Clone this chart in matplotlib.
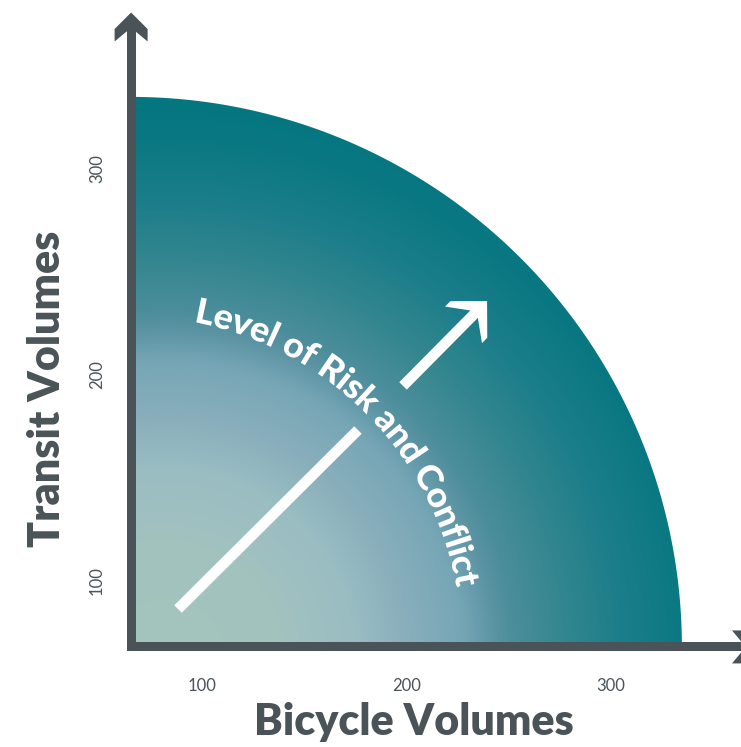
import numpy as np
import matplotlib
matplotlib.use("Agg")
import matplotlib.pyplot as plt
from matplotlib.patches import Polygon, PathPatch
from matplotlib.path import Path
from matplotlib.textpath import TextPath
from matplotlib.font_manager import FontProperties
from matplotlib.transforms import Affine2D

# ---------------- data ----------------
x_ticks = [100, 200, 300]
y_ticks = [100, 200, 300]
x_label = "Bicycle Volumes"
y_label = "Transit Volumes"
axis_origin = (65.0, 68.0)          # values where the two axes meet
zone_reach_x = 335.0                # quarter zone reaches this bicycle volume
zone_reach_y = 335.0                # ... and this transit volume
risk_label = "Level of Risk and Conflict"
arrow_low = [(88.0, 86.4), (176.2, 173.3)]
arrow_high = [(198.3, 194.7), (239.5, 235.9)]

# ---------------- layout ----------------
W, H = 741, 747
SX, SY = 2.04, 2.06                 # pixels per unit
X_REF_PX, Y_REF_PX = 406.5, 375.0   # pixel position of value 200

def to_px(x, y):
    return X_REF_PX + (np.asarray(x) - 200) * SX, Y_REF_PX - (np.asarray(y) - 200) * SY

def from_px(px, py):
    return 200 + (px - X_REF_PX) / SX, 200 - (py - Y_REF_PX) / SY

AX_COL = "#4a5357"

fig = plt.figure(figsize=(W / 100, H / 100), dpi=100)
ax = fig.add_axes([0, 0, 1, 1])
ax.set_xlim(from_px(0, 0)[0], from_px(W, 0)[0])
ax.set_ylim(from_px(0, H)[1], from_px(0, 0)[1])
ax.axis("off")

pix = Affine2D().scale(1 / W, -1 / H).translate(0, 1) + fig.transFigure

# ---------------- gradient quarter zone ----------------
ox, oy = axis_origin
t = np.linspace(0, np.pi / 2, 300)
qx = np.concatenate([[ox], ox + (zone_reach_x - ox) * np.cos(t)])
qy = np.concatenate([[oy], oy + (zone_reach_y - oy) * np.sin(t)])
zone = Polygon(np.column_stack([qx, qy]), closed=True, facecolor="none",
               edgecolor="none", transform=ax.transData)
ax.add_patch(zone)

gx = np.linspace(ox - 5, zone_reach_x + 5, 700)
gy = np.linspace(oy - 5, zone_reach_y + 5, 700)
GX, GY = np.meshgrid(gx, gy)
PX, PY = to_px(GX, GY)
cxp, cyp = 165.0, 660.0
d = np.hypot(PX - cxp, PY - cyp)
stops = [0, 120, 191, 245, 298, 331, 348, 400, 456, 520, 590]
cols = ["#a4c4bd", "#a2c2bf", "#9abdc3", "#88aebb", "#76a6b6", "#5a93a3",
        "#4c8e9b", "#33868f", "#1c7e8a", "#0a7882", "#00757f"]
rgb = np.array([matplotlib.colors.to_rgb(c) for c in cols])
img = np.stack([np.interp(d, stops, rgb[:, k]) for k in range(3)], axis=-1)
im = ax.imshow(img, extent=(gx[0], gx[-1], gy[0], gy[-1]), origin="lower",
               aspect="auto", interpolation="bilinear", zorder=1)
im.set_clip_path(zone)

# ---------------- axes with arrows ----------------
o_px, o_py = to_px(ox, oy)
hw = 4.5
ax.add_patch(Polygon([(o_px - hw, o_py + hw), (o_px + hw, o_py + hw), (o_px + hw, 30),
                      (o_px - hw, 30)], closed=True, transform=pix, color=AX_COL, lw=0, zorder=3))
ax.add_patch(Polygon([(o_px - hw, o_py - hw), (750, o_py - hw), (750, o_py + hw),
                      (o_px - hw, o_py + hw)], closed=True, transform=pix, color=AX_COL, lw=0, zorder=3))

def chevron(tipx, tipy, ux, uy, a, b, c, half):
    # u: unit vector pointing backwards from the tip
    vx, vy = -uy, ux
    local = [(0, 0), (a, a), (b, a), (c, half), (c, -half), (b, -a), (a, -a)]
    return [(tipx + p * ux + q * vx, tipy + p * uy + q * vy) for p, q in local]

ax.add_patch(Polygon(chevron(o_px, 12.5, 0, 1, 16.5, 29, 19, hw), closed=True,
                     transform=pix, color=AX_COL, lw=0, zorder=3))
ax.add_patch(Polygon(chevron(761, o_py, -1, 0, 16.5, 29, 19, hw), closed=True,
                     transform=pix, color=AX_COL, lw=0, zorder=3))

# ---------------- white arrow ----------------
def band(p0, p1, half):
    (x0, y0), (x1, y1) = p0, p1
    L = np.hypot(x1 - x0, y1 - y0)
    nx, ny = -(y1 - y0) / L * half, (x1 - x0) / L * half
    return [(x0 + nx, y0 + ny), (x1 + nx, y1 + ny), (x1 - nx, y1 - ny), (x0 - nx, y0 - ny)]

a0 = [tuple(to_px(*p)) for p in arrow_low]
a1 = [tuple(to_px(*p)) for p in arrow_high]
ax.add_patch(Polygon(band(a0[0], a0[1], 5.3), closed=True, transform=pix,
                     color="white", lw=0, zorder=4))
tipx, tipy = a1[1]
L = np.hypot(a1[1][0] - a1[0][0], a1[1][1] - a1[0][1])
ux, uy = (a1[0][0] - a1[1][0]) / L, (a1[0][1] - a1[1][1]) / L
join = (tipx + ux * 18, tipy + uy * 18)
ax.add_patch(Polygon(band(a1[0], join, 5.3), closed=True, transform=pix,
                     color="white", lw=0, zorder=4))
ax.add_patch(Polygon(chevron(tipx, tipy, ux, uy, 26, 33.5, 18.5, 5.3), closed=True,
                     transform=pix, color="white", lw=0, zorder=4))

# ---------------- curved label ----------------
fp = FontProperties(family="Lato", weight="black")
tp = TextPath((0, 0), risk_label, size=35, prop=fp)
verts = tp.vertices.copy()
xmin, xmax = verts[:, 0].min(), verts[:, 0].max()
R_b = 331.0
th0, th1 = np.radians(79.1), np.radians(10.3)
arc_len = R_b * (th0 - th1)
u = (verts[:, 0] - xmin) / (xmax - xmin) * arc_len
v = verts[:, 1]
theta = th0 - u / R_b
r = R_b + v
wx = o_px + r * np.cos(theta)
wy = o_py - r * np.sin(theta)
curved = Path(np.column_stack([wx, wy]), tp.codes)
ax.add_patch(PathPatch(curved, transform=pix, facecolor="white", edgecolor="none", zorder=5))

# ---------------- ticks & labels ----------------
for xv in x_ticks:
    ax.text(xv, from_px(0, 686)[1], str(xv), ha="center", va="center",
            fontsize=12, color=AX_COL, family="Lato")
for yv in y_ticks:
    ax.text(from_px(97, 0)[0], yv, str(yv), ha="center", va="center", rotation=90,
            fontsize=12, color=AX_COL, family="Lato")

ax.text(from_px(414, 0)[0], from_px(0, 722)[1], x_label, ha="center", va="center",
        fontsize=31, fontweight="heavy", color=AX_COL, family="Lato")
ax.text(from_px(47, 0)[0], from_px(0, 389)[1], y_label, ha="center", va="center",
        rotation=90, fontsize=31, fontweight="heavy", color=AX_COL, family="Lato")

fig.savefig("out.png", dpi=100)
